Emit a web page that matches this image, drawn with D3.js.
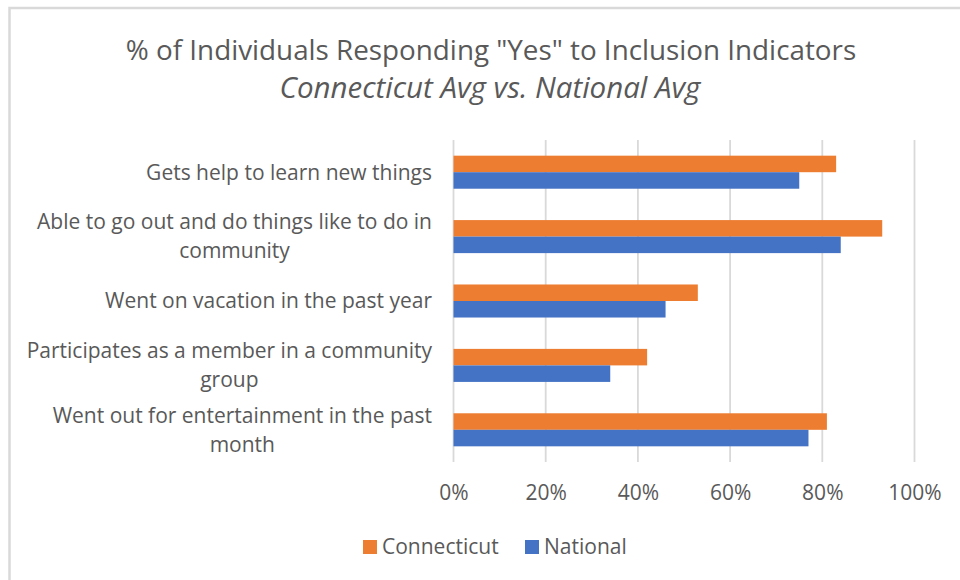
<!DOCTYPE html>
<html>
<head>
<meta charset="utf-8">
<script src="https://cdn.jsdelivr.net/npm/d3@7"></script>
<style>
  body { margin: 0; background: #fff; }
  text { font-family: "Open Sans", "Liberation Sans", sans-serif; fill: #595959; }
</style>
</head>
<body>
<div id="chart"></div>
<script>
// data
var categories = [
  "Gets help to learn new things",
  "Able to go out and do things like to do in community",
  "Went on vacation in the past year",
  "Participates as a member in a community group",
  "Went out for entertainment in the past month"
];
// wrapped the way the picture shows them
var labelLines = [
  ["Gets help to learn new things"],
  ["Able to go out and do things like to do in", "community"],
  ["Went on vacation in the past year"],
  ["Participates as a member in a community", "group"],
  ["Went out for entertainment in the past", "month"]
];
var seriesNames = ["Connecticut", "National"];
var connecticut = [0.83, 0.93, 0.53, 0.42, 0.81];
var national = [0.75, 0.84, 0.46, 0.34, 0.77];
var xTicks = [0, 0.2, 0.4, 0.6, 0.8, 1.0];
var colors = ["#ED7D31", "#4472C4"];

var W = 960, H = 580;
var svg = d3.select("#chart").append("svg")
    .attr("width", W)
    .attr("height", H);

// chart frame (cut by the picture edge on the right/bottom)
svg.append("rect")
    .attr("x", 9.5).attr("y", 8)
    .attr("width", 1000).attr("height", 1000)
    .attr("fill", "#fff")
    .attr("stroke", "#d9d9d9")
    .attr("stroke-width", 2.5);

// titles
svg.append("text")
    .attr("x", 491).attr("y", 60)
    .attr("text-anchor", "middle")
    .style("font-size", "27.8px")
    .text("% of Individuals Responding \"Yes\" to Inclusion Indicators");
svg.append("text")
    .attr("x", 490).attr("y", 98)
    .attr("text-anchor", "middle")
    .style("font-size", "29.5px")
    .style("font-style", "italic")
    .text("Connecticut Avg vs. National Avg");

var x = d3.scaleLinear().domain([0, 1]).range([453.5, 914.5]);
var y = d3.scaleBand().domain(categories).range([140, 462])
    .paddingInner(0.487).paddingOuter(0.2435);
var ySub = d3.scaleBand().domain(seriesNames).range([0, y.bandwidth()]);

// gridlines
svg.append("g")
  .selectAll("line")
  .data(xTicks)
  .enter()
  .append("line")
    .attr("x1", function(d) { return x(d); })
    .attr("x2", function(d) { return x(d); })
    .attr("y1", 140)
    .attr("y2", 462)
    .attr("stroke", "#d9d9d9")
    .attr("stroke-width", 1.8);

// x axis labels (no domain line, like the source)
var xAxis = svg.append("g")
    .attr("transform", "translate(0,462)")
    .call(d3.axisBottom(x).tickValues(xTicks).tickFormat(d3.format(".0%")).tickSize(0).tickPadding(23));
xAxis.select(".domain").remove();
xAxis.selectAll("text")
    .style("font-size", "21px")
    .attr("fill", "#595959");

// bars
var rows = categories.map(function(c, i) {
  return { cat: c, values: [connecticut[i], national[i]] };
});
var groups = svg.append("g")
  .selectAll("g")
  .data(rows)
  .enter()
  .append("g")
    .attr("transform", function(d) { return "translate(0," + y(d.cat) + ")"; });

groups.selectAll("rect")
  .data(function(d) { return d.values.map(function(v, j) { return { name: seriesNames[j], v: v, j: j }; }); })
  .enter()
  .append("rect")
    .attr("x", x(0))
    .attr("y", function(d) { return ySub(d.name); })
    .attr("width", function(d) { return x(d.v) - x(0); })
    .attr("height", ySub.bandwidth())
    .attr("fill", function(d) { return colors[d.j]; });

// category labels: block right-aligned, lines centred inside the block
var lineH = 29, labelRight = 432;
var labels = svg.append("g")
  .selectAll("g")
  .data(categories)
  .enter()
  .append("g");

labels.each(function(d, i) {
  var lines = labelLines[i];
  var g = d3.select(this);
  var y0 = y(d) + y.bandwidth() / 2 - (lines.length - 1) * lineH / 2;
  var texts = lines.map(function(l, k) {
    return g.append("text")
      .attr("text-anchor", "middle")
      .style("font-size", "21px")
      .attr("y", y0 + k * lineH)
      .attr("dy", "0.35em")
      .text(l);
  });
  var maxW = d3.max(texts, function(t) { return t.node().getComputedTextLength(); });
  texts.forEach(function(t) { t.attr("x", labelRight - maxW / 2); });
});

// legend
var legendX = [363, 525];
var legend = svg.append("g")
  .selectAll("g")
  .data(seriesNames)
  .enter()
  .append("g")
    .attr("transform", function(d, i) { return "translate(" + legendX[i] + ",547)"; });
legend.append("rect")
    .attr("x", 0).attr("y", -7)
    .attr("width", 14).attr("height", 14)
    .attr("fill", function(d, i) { return colors[i]; });
legend.append("text")
    .attr("x", 19)
    .attr("dy", "0.35em")
    .style("font-size", "21px")
    .text(function(d) { return d; });
</script>
</body>
</html>
